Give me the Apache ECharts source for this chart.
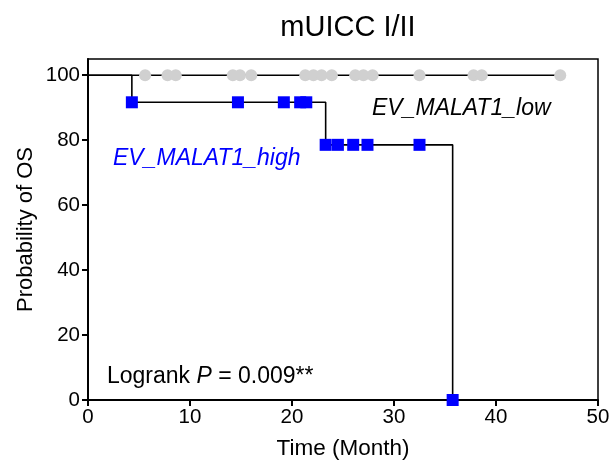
<!DOCTYPE html>
<html><head><meta charset="utf-8">
<script src="https://cdn.jsdelivr.net/npm/echarts@6/dist/echarts.min.js"></script>
<style>html,body{margin:0;padding:0;background:#fff}#c{width:613px;height:466px}</style>
</head><body><div id="c"></div>
<script>
// Survival step curve (month, probability %)
const highCurve = [[0,100],[4.3,91.67],[23.3,78.57],[35.75,0]];
const lowCurve = [[0,100],[46.3,100]];
// Censored marks
const highCensorX = [4.3,14.7,19.2,20.8,21.4,23.3,24.5,26.0,27.4,32.5,35.75];
const highCensorY = [91.67,91.67,91.67,91.67,91.67,78.57,78.57,78.57,78.57,78.57,0];
const lowCensorX = [5.6,7.8,8.6,14.2,14.9,16.0,21.3,22.1,22.9,23.9,26.2,27.0,27.9,32.5,37.8,38.6,46.3];
const yTicks = [0,20,40,60,80,100];
const xTicks = [0,10,20,30,40,50];

const font = 'Liberation Sans, Arial, sans-serif';
const chart = echarts.init(document.getElementById('c'));
chart.setOption({
  animation:false,
  title:{text:'mUICC I/II',left:343,textAlign:'center',top:8,textStyle:{fontFamily:font,fontSize:29,fontWeight:'normal',color:'#000'}},
  grid:{left:88,right:15,top:59,bottom:66,show:true,borderColor:'#000',borderWidth:1.5},
  xAxis:{type:'value',min:0,max:50,interval:10,
    name:'Time (Month)',nameLocation:'middle',nameGap:37,nameMoveOverlap:false,
    nameTextStyle:{fontFamily:font,fontSize:22.5,color:'#000'},
    axisLine:{lineStyle:{color:'#000',width:2}},
    axisTick:{inside:false,length:6,lineStyle:{color:'#000',width:2},customValues:xTicks},
    axisLabel:{fontFamily:font,fontSize:20.5,color:'#000',margin:7,customValues:xTicks},
    splitLine:{show:false}},
  yAxis:{type:'value',min:0,max:105,
    name:'Probability of OS',nameLocation:'middle',nameGap:51,nameMoveOverlap:false,
    nameTextStyle:{fontFamily:font,fontSize:22,color:'#000'},
    axisLine:{lineStyle:{color:'#000',width:2}},
    axisTick:{length:6,lineStyle:{color:'#000',width:2},customValues:yTicks},
    axisLabel:{fontFamily:font,fontSize:20.5,color:'#000',margin:8,customValues:yTicks},
    splitLine:{show:false}},
  graphic:[
    {type:'text',x:372,y:109,style:{text:'EV_MALAT1_low',font:'italic 23px '+font,fill:'#000',verticalAlign:'middle'}},
    {type:'text',x:113,y:159,style:{text:'EV_MALAT1_high',font:'italic 23px '+font,fill:'#0000ff',verticalAlign:'middle'}},
    {type:'text',x:107,y:377,style:{verticalAlign:'middle',rich:{a:{fontFamily:font,fontSize:23,fill:'#000'},b:{fontFamily:font,fontSize:23,fontStyle:'italic',fill:'#000'}},text:'{a|Logrank }{b|P}{a| = 0.009**}'}}
  ],
  series:[
    {type:'line',data:lowCurve,step:'end',symbol:'none',lineStyle:{color:'#000',width:1.6},z:2},
    {type:'scatter',data:lowCensorX.map(x=>[x,100]),symbol:'circle',symbolSize:12,itemStyle:{color:'#d0d0d0',opacity:1},z:3},
    {type:'line',data:highCurve,step:'end',symbol:'none',lineStyle:{color:'#000',width:1.6},z:2},
    {type:'scatter',data:highCensorX.map((x,i)=>[x,highCensorY[i]]),symbol:'rect',symbolSize:12,itemStyle:{color:'#0000ff',opacity:1},z:4}
  ]
});
</script></body></html>
